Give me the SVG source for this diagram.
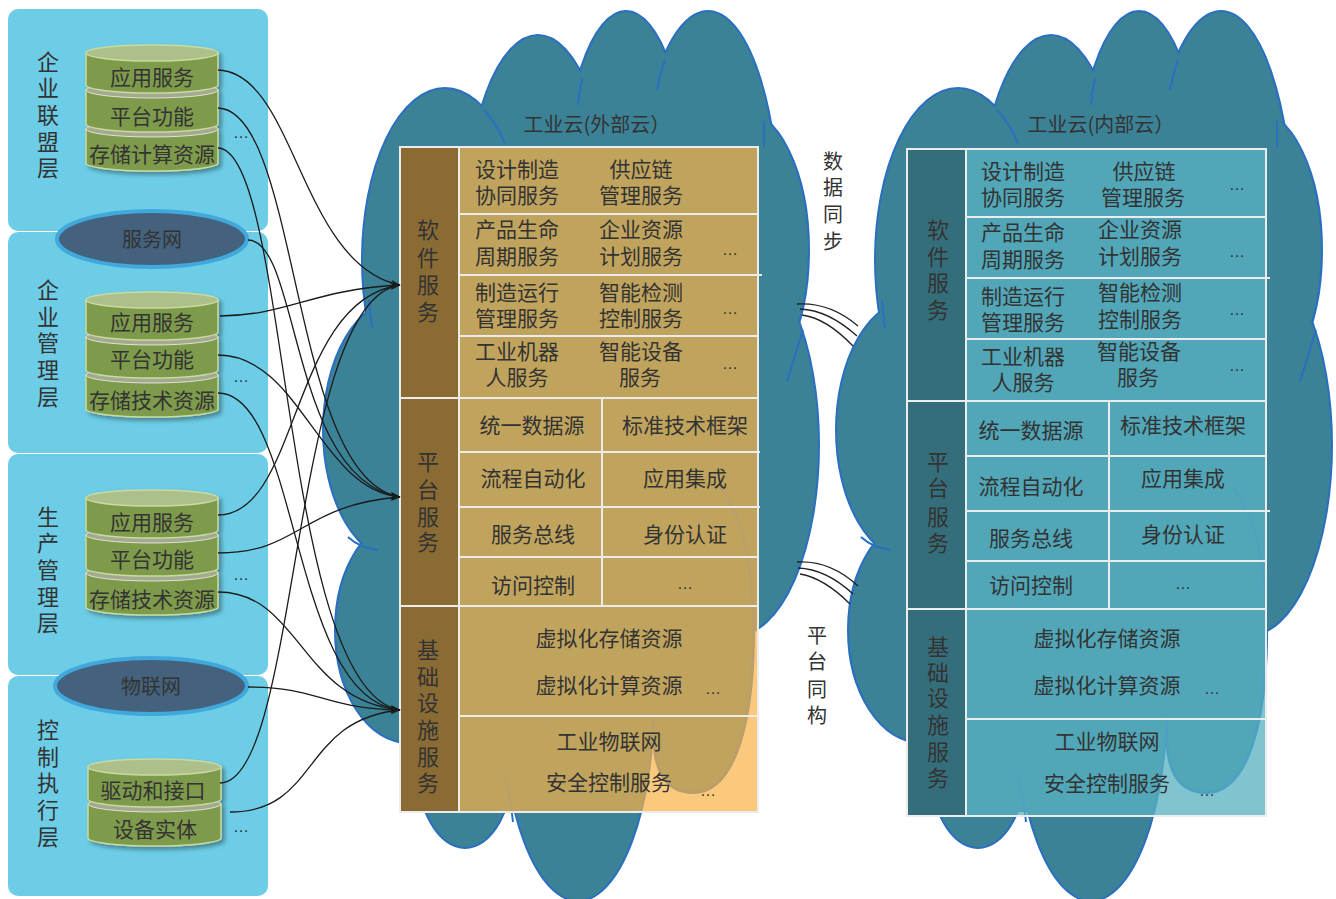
<svg xmlns="http://www.w3.org/2000/svg" xmlns:xlink="http://www.w3.org/1999/xlink" width="1336" height="899" viewBox="0 0 1336 899">
<style>
.t{font-family:'Noto Sans CJK SC',sans-serif;font-size:21px;fill:#333;text-anchor:middle}
.v{font-size:22px}
.ti{font-size:20px}
.d{font-family:'Liberation Sans',sans-serif;font-size:16px;fill:#333;text-anchor:middle}
.panel{fill:#6dcde6}
.net{fill:#44627d;stroke:#41a8dc;stroke-width:4}
.body{fill:#7e9a4b;stroke:#c9db9e;stroke-width:1.5}
.cap{fill:#a3aa90;stroke:#dfe3cf;stroke-width:1}
.top{fill:#adc08b;stroke:#c9db9e;stroke-width:1.5}
.conn{fill:none;stroke:#1b1b1b;stroke-width:1.3;marker-end:url(#ah)}
.sync{fill:none;stroke:#222;stroke-width:1.3}
.arc{fill:none;stroke:#2a6fc0;stroke-width:2}
.grid{stroke:#ececec;stroke-width:2;fill:none}
</style>
<defs>
<filter id="sh" x="-10%" y="-10%" width="130%" height="130%"><feDropShadow dx="3" dy="3" stdDeviation="2" flood-color="#000" flood-opacity="0.35"/></filter>
<marker id="ah" markerWidth="10" markerHeight="8" refX="9.5" refY="4" orient="auto" markerUnits="userSpaceOnUse"><path d="M0,0.5 L10,4 L0,7.5 L3,4 Z" fill="#1b1b1b"/></marker>
<g id="lobes">
<ellipse cx="445" cy="260" rx="82" ry="171"/>
<ellipse cx="538" cy="230" rx="72" ry="194"/>
<ellipse cx="626" cy="200" rx="62" ry="188"/>
<ellipse cx="708" cy="220" rx="70" ry="208"/>
<ellipse cx="740" cy="250" rx="68" ry="140"/>
<ellipse cx="735" cy="445" rx="83" ry="190"/>
<ellipse cx="400" cy="430" rx="76" ry="130"/>
<ellipse cx="408" cy="630" rx="72" ry="112"/>
<ellipse cx="465" cy="760" rx="48" ry="87"/>
<ellipse cx="578" cy="700" rx="75" ry="200"/>
<path d="M720,487 C745,520 754,570 753,640 C752,720 735,790 695,792 C665,793 652,770 654,720 L640,600 Z"/>
</g>
<g id="cloud">
<use xlink:href="#lobes" fill="#3b8297" stroke="#2a6fc0" stroke-width="4"/>
<use xlink:href="#lobes" fill="#3b8297" stroke="none"/>
<polygon points="440,140 760,140 760,600 715,630 650,700 649,767 600,812 460,812 420,760" fill="#3b8297"/>
<path class="arc" d="M484,110 Q497,124 505,143"/>
<path class="arc" d="M582,78 Q579,92 578,105"/>
<path class="arc" d="M665,60 Q660,74 657,90"/>
<path class="arc" d="M764,121 L764,147"/>
<path class="arc" d="M369,300 Q370,315 372,328"/>
<path class="arc" d="M348,537 Q360,548 378,550"/>
<path class="arc" d="M803,330 Q795,355 787,382"/>
<path class="arc" d="M505,777 Q511,800 513,822"/>
<path class="arc" d="M720,487 C745,520 754,570 753,640 C752,720 735,790 695,792 C665,793 652,770 654,720"/>
</g>
</defs>

<g id="left-panels">
<g id="layer-alliance">
<rect class="panel" x="8" y="9" width="260" height="222" rx="10"/>
<text class="t v" x="48"><tspan x="48" y="70">企</tspan><tspan x="48" y="96">业</tspan><tspan x="48" y="123">联</tspan><tspan x="48" y="150">盟</tspan><tspan x="48" y="176">层</tspan></text>
</g>
<g id="layer-enterprise">
<rect class="panel" x="8" y="232" width="260" height="221" rx="10"/>
<text class="t v" x="48"><tspan x="48" y="298">企</tspan><tspan x="48" y="325">业</tspan><tspan x="48" y="351">管</tspan><tspan x="48" y="378">理</tspan><tspan x="48" y="405">层</tspan></text>
</g>
<g id="layer-production">
<rect class="panel" x="8" y="454" width="260" height="221" rx="10"/>
<text class="t v" x="48"><tspan x="48" y="525">生</tspan><tspan x="48" y="551">产</tspan><tspan x="48" y="578">管</tspan><tspan x="48" y="605">理</tspan><tspan x="48" y="631">层</tspan></text>
</g>
<g id="layer-control">
<rect class="panel" x="8" y="676" width="260" height="220" rx="10"/>
<text class="t v" x="48"><tspan x="48" y="738">控</tspan><tspan x="48" y="765">制</tspan><tspan x="48" y="791">执</tspan><tspan x="48" y="818">行</tspan><tspan x="48" y="845">层</tspan></text>
</g>
</g>

<g id="net-service">
<ellipse class="net" cx="152" cy="239" rx="95" ry="28"/>
<text class="t ti" x="152" y="247">服务网</text>
</g>
<g id="net-iot">
<ellipse class="net" cx="151" cy="686" rx="96" ry="28"/>
<text class="t ti" x="151" y="694">物联网</text>
</g>

<g id="stack-alliance">
<g filter="url(#sh)">
<path class="body" d="M86,129 V163 A66,8 0 0 0 218,163 V129 Z"/>
<ellipse class="cap" cx="152" cy="129" rx="66" ry="8"/>
<path class="body" d="M86,90 V124 A66,8 0 0 0 218,124 V90 Z"/>
<ellipse class="cap" cx="152" cy="90" rx="66" ry="8"/>
<path class="body" d="M86,53 V85 A66,8 0 0 0 218,85 V53 Z"/>
<ellipse class="top" cx="152" cy="53" rx="66" ry="8"/>
</g>
<text class="t" x="152" y="85">应用服务</text>
<text class="t" x="152" y="124">平台功能</text>
<text class="t" x="152" y="162">存储计算资源</text>
<text class="d" x="241" y="138">…</text>
</g>

<g id="stack-enterprise">
<g filter="url(#sh)">
<path class="body" d="M86,375 V409 A66,8 0 0 0 218,409 V375 Z"/>
<ellipse class="cap" cx="152" cy="375" rx="66" ry="8"/>
<path class="body" d="M86,337 V370 A66,8 0 0 0 218,370 V337 Z"/>
<ellipse class="cap" cx="152" cy="337" rx="66" ry="8"/>
<path class="body" d="M86,300 V332 A66,8 0 0 0 218,332 V300 Z"/>
<ellipse class="top" cx="152" cy="300" rx="66" ry="8"/>
</g>
<text class="t" x="152" y="330">应用服务</text>
<text class="t" x="152" y="367">平台功能</text>
<text class="t" x="152" y="408">存储技术资源</text>
<text class="d" x="241" y="382">…</text>
</g>

<g id="stack-production">
<g filter="url(#sh)">
<path class="body" d="M86,573 V607 A66,8 0 0 0 218,607 V573 Z"/>
<ellipse class="cap" cx="152" cy="573" rx="66" ry="8"/>
<path class="body" d="M86,535 V568 A66,8 0 0 0 218,568 V535 Z"/>
<ellipse class="cap" cx="152" cy="535" rx="66" ry="8"/>
<path class="body" d="M86,498 V530 A66,8 0 0 0 218,530 V498 Z"/>
<ellipse class="top" cx="152" cy="498" rx="66" ry="8"/>
</g>
<text class="t" x="152" y="530">应用服务</text>
<text class="t" x="152" y="567">平台功能</text>
<text class="t" x="152" y="607">存储技术资源</text>
<text class="d" x="241" y="580">…</text>
</g>

<g id="stack-control">
<g filter="url(#sh)">
<path class="body" d="M88,804 V838 A66.5,8 0 0 0 221,838 V804 Z"/>
<ellipse class="cap" cx="154.5" cy="804" rx="66.5" ry="8"/>
<path class="body" d="M88,767 V799 A66.5,8 0 0 0 221,799 V767 Z"/>
<ellipse class="top" cx="154.5" cy="767" rx="66.5" ry="8"/>
</g>
<text class="t" x="153" y="798">驱动和接口</text>
<text class="t" x="155" y="837">设备实体</text>
<text class="d" x="241" y="832">…</text>
</g>

<g id="cloud-external">
<use xlink:href="#cloud"/>
<text class="t ti" x="597" y="132">工业云(外部云）</text>
</g>
<g id="cloud-internal">
<use xlink:href="#cloud" transform="translate(513,0)"/>
<text class="t ti" x="1101" y="132">工业云(内部云）</text>
</g>

<g id="table-external">
<rect x="459" y="147" width="299" height="665" fill="#fab244" fill-opacity="0.7"/>
<rect x="400" y="147" width="59" height="665" fill="#8b6b34"/>
<g class="grid">
<rect x="400" y="147" width="358" height="665"/>
<path d="M459,147 V812 M459,214 H758 M459,275 H762 M459,336 H758 M400,398 H758 M459,452 H760 M459,507 H760 M459,557 H758 M400,606 H758 M459,716 H758 M602,398 V606"/>
</g>
<g id="ext-software">
<text class="t v" x="428"><tspan x="428" y="238">软</tspan><tspan x="428" y="266">件</tspan><tspan x="428" y="293">服</tspan><tspan x="428" y="320">务</tspan></text>
<text class="t" x="517" y="177">设计制造</text><text class="t" x="517" y="203">协同服务</text>
<text class="t" x="641" y="177">供应链</text><text class="t" x="641" y="203">管理服务</text>
<text class="t" x="517" y="237">产品生命</text><text class="t" x="517" y="264">周期服务</text>
<text class="t" x="641" y="237">企业资源</text><text class="t" x="641" y="264">计划服务</text>
<text class="d" x="730" y="254.5">…</text>
<text class="t" x="517" y="300">制造运行</text><text class="t" x="517" y="326">管理服务</text>
<text class="t" x="641" y="300">智能检测</text><text class="t" x="641" y="326">控制服务</text>
<text class="d" x="730" y="313.5">…</text>
<text class="t" x="517" y="359">工业机器</text><text class="t" x="517" y="385">人服务</text>
<text class="t" x="641" y="359">智能设备</text><text class="t" x="640" y="385">服务</text>
<text class="d" x="730" y="368.5">…</text>
</g>
<g id="ext-platform">
<text class="t v" x="428"><tspan x="428" y="470">平</tspan><tspan x="428" y="498">台</tspan><tspan x="428" y="525">服</tspan><tspan x="428" y="550">务</tspan></text>
<text class="t" x="532" y="433">统一数据源</text><text class="t" x="685" y="433">标准技术框架</text>
<text class="t" x="533" y="486">流程自动化</text><text class="t" x="685" y="486">应用集成</text>
<text class="t" x="533" y="542">服务总线</text><text class="t" x="685" y="542">身份认证</text>
<text class="t" x="533" y="593">访问控制</text><text class="d" x="685" y="588.5">…</text>
</g>
<g id="ext-infra">
<text class="t v" x="428"><tspan x="428" y="658">基</tspan><tspan x="428" y="685">础</tspan><tspan x="428" y="711">设</tspan><tspan x="428" y="738">施</tspan><tspan x="428" y="765">服</tspan><tspan x="428" y="791">务</tspan></text>
<text class="t" x="609" y="646">虚拟化存储资源</text>
<text class="t" x="609" y="693">虚拟化计算资源</text><text class="d" x="713" y="693.5">…</text>
<text class="t" x="609" y="749">工业物联网</text>
<text class="t" x="609" y="790">安全控制服务</text><text class="d" x="708" y="795.5">…</text>
</g>
</g>

<g id="table-internal">
<rect x="966" y="149" width="300" height="667" fill="#58b2c1" fill-opacity="0.76"/>
<rect x="907" y="149" width="59" height="667" fill="#356e7b"/>
<g class="grid">
<rect x="907" y="149" width="359" height="667"/>
<path d="M966,149 V816 M966,217 H1266 M966,278 H1270 M966,339 H1266 M907,401 H1266 M966,456 H1266 M966,511 H1270 M966,561 H1266 M907,609 H1266 M966,719 H1266 M1109,401 V609"/>
</g>
<g id="int-software">
<text class="t v" x="938"><tspan x="938" y="238">软</tspan><tspan x="938" y="265">件</tspan><tspan x="938" y="291">服</tspan><tspan x="938" y="318">务</tspan></text>
<text class="t" x="1023" y="179">设计制造</text><text class="t" x="1023" y="205">协同服务</text>
<text class="t" x="1144" y="179">供应链</text><text class="t" x="1143" y="205">管理服务</text>
<text class="d" x="1237" y="189.5">…</text>
<text class="t" x="1023" y="240">产品生命</text><text class="t" x="1023" y="267">周期服务</text>
<text class="t" x="1140" y="237">企业资源</text><text class="t" x="1140" y="264">计划服务</text>
<text class="d" x="1237" y="256.5">…</text>
<text class="t" x="1023" y="304">制造运行</text><text class="t" x="1023" y="330">管理服务</text>
<text class="t" x="1140" y="300">智能检测</text><text class="t" x="1140" y="327">控制服务</text>
<text class="d" x="1237" y="314.5">…</text>
<text class="t" x="1023" y="364">工业机器</text><text class="t" x="1023" y="390">人服务</text>
<text class="t" x="1139" y="359">智能设备</text><text class="t" x="1138" y="385">服务</text>
<text class="d" x="1237" y="370.5">…</text>
</g>
<g id="int-platform">
<text class="t v" x="938"><tspan x="938" y="470">平</tspan><tspan x="938" y="496">台</tspan><tspan x="938" y="525">服</tspan><tspan x="938" y="551">务</tspan></text>
<text class="t" x="1031" y="438">统一数据源</text><text class="t" x="1183" y="433">标准技术框架</text>
<text class="t" x="1031" y="494">流程自动化</text><text class="t" x="1183" y="486">应用集成</text>
<text class="t" x="1031" y="546">服务总线</text><text class="t" x="1183" y="542">身份认证</text>
<text class="t" x="1031" y="593">访问控制</text><text class="d" x="1183" y="588.5">…</text>
</g>
<g id="int-infra">
<text class="t v" x="938"><tspan x="938" y="655">基</tspan><tspan x="938" y="681">础</tspan><tspan x="938" y="706">设</tspan><tspan x="938" y="733">施</tspan><tspan x="938" y="760">服</tspan><tspan x="938" y="786">务</tspan></text>
<text class="t" x="1107" y="646">虚拟化存储资源</text>
<text class="t" x="1107" y="693">虚拟化计算资源</text><text class="d" x="1212" y="693.5">…</text>
<text class="t" x="1107" y="749">工业物联网</text>
<text class="t" x="1107" y="791">安全控制服务</text><text class="d" x="1207" y="795.5">…</text>
</g>
</g>

<g id="connectors">
<path class="conn" d="M218,70 C295,72 300,265 400,285"/>
<path class="conn" d="M220,316 C290,315 310,290 400,285"/>
<path class="conn" d="M218,515 C300,515 290,300 400,285"/>
<path class="conn" d="M220,783 C300,783 290,300 400,285"/>
<path class="conn" d="M218,108 C300,110 290,480 400,497"/>
<path class="conn" d="M248,240 C300,240 290,480 400,497"/>
<path class="conn" d="M218,355 C300,355 320,490 400,497"/>
<path class="conn" d="M218,553 C300,553 300,505 400,497"/>
<path class="conn" d="M218,148 C290,150 280,690 400,710"/>
<path class="conn" d="M218,393 C300,393 290,700 400,710"/>
<path class="conn" d="M218,592 C300,592 300,700 400,710"/>
<path class="conn" d="M248,687 C320,687 320,708 400,710"/>
<path class="conn" d="M230,812 C320,812 300,720 400,710"/>
</g>

<g id="sync-data">
<path class="sync" d="M797,304 Q830,302 858,326"/>
<path class="sync" d="M800,309 Q828,310 857,336"/>
<path class="sync" d="M802,315 Q826,318 853,346"/>
<text class="t ti" x="833"><tspan x="833" y="169">数</tspan><tspan x="833" y="195">据</tspan><tspan x="833" y="222">同</tspan><tspan x="833" y="249">步</tspan></text>
</g>
<g id="sync-platform">
<path class="sync" d="M797,562 Q830,560 858,586"/>
<path class="sync" d="M798,568 Q826,569 853,594"/>
<path class="sync" d="M800,574 Q824,578 850,604"/>
<text class="t ti" x="817"><tspan x="817" y="643">平</tspan><tspan x="817" y="669">台</tspan><tspan x="817" y="697">同</tspan><tspan x="817" y="723">构</tspan></text>
</g>
</svg>
